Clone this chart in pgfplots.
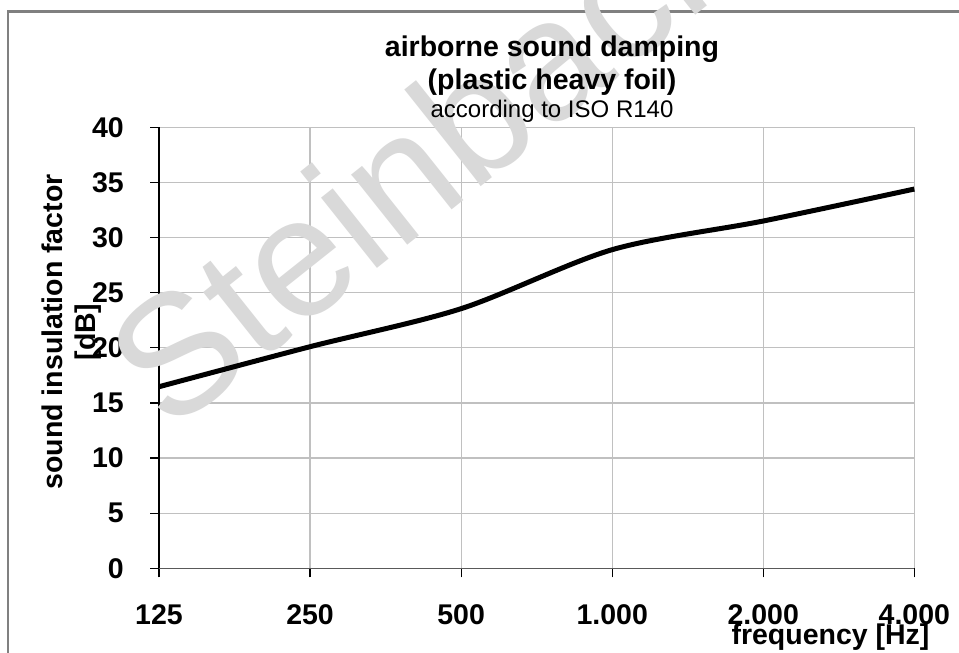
\documentclass[border=0pt]{standalone}
\usepackage{fontspec}
\setmainfont{Liberation Sans}
\usepackage{pgfplots}
\pgfplotsset{compat=1.18}
\definecolor{gridgray}{RGB}{192,192,192}
\definecolor{wm}{RGB}{217,217,217}
\definecolor{framegray}{RGB}{128,128,128}
\begin{document}
\begin{tikzpicture}[x=1pt,y=1pt]
\useasboundingbox (0,0) rectangle (959,653);
\fill[white] (0,0) rectangle (959,653);
\draw[framegray, line width=2.5pt] (8,-20) -- (8,641.3) -- (990,641.3);
\begin{axis}[
  at={(159pt,84.7pt)}, anchor=south west,
  scale only axis, width=755.3pt, height=441pt,
  clip=false,
  xmode=log, log basis x=2,
  xmin=125, xmax=4000, ymin=0, ymax=40,
  xtick={125,250,500,1000,2000,4000},
  xticklabels={125,250,500,1.000,2.000,4.000},
  ytick={0,5,10,15,20,25,30,35,40},
  yticklabels={0,5,10,15,20,25,30,35,40},
  minor xtick={}, minor ytick={},
  grid=major,
  major grid style={gridgray, line width=1.2pt},
  axis x line=bottom, axis y line=left,
  x axis line style={-, black!65, line width=1.5pt},
  y axis line style={-, black, line width=1.2pt},
  tick align=outside,
  major tick length=9pt,
  tick style={black, line width=1.2pt},
  ticklabel style={font=\bfseries\fontsize{28.5}{30}\selectfont, inner sep=0pt},
  xticklabel style={anchor=base, yshift=-46.7pt},
  yticklabel style={anchor=east, xshift=-26pt},
]
\node[rotate=38.5, anchor=base west, text=wm, inner sep=0pt, font=\fontsize{170}{170}\selectfont] at (rel axis cs:0.0132,0.3027) {Steinbach};
\addplot[black, line width=5pt, smooth, tension=0.5] coordinates {
  (125,16.47) (250,20.1) (500,23.55) (1000,28.9) (2000,31.5) (4000,34.4)
};
\end{axis}
\node[anchor=base, font=\bfseries\fontsize{28.5}{33}\selectfont] at (552,596) {airborne sound damping};
\node[anchor=base, font=\bfseries\fontsize{28.5}{33}\selectfont] at (552,563) {(plastic heavy foil)};
\node[anchor=base, font=\fontsize{24}{28}\selectfont] at (552,535) {according to ISO R140};
\node[rotate=90, anchor=base, font=\bfseries\fontsize{28.5}{33}\selectfont] at (62,321) {sound insulation factor};
\node[rotate=90, anchor=base, font=\bfseries\fontsize{28.5}{33}\selectfont] at (95,321) {[dB]};
\node[anchor=base east, font=\bfseries\fontsize{28.5}{33}\selectfont] at (933,8) {frequency [Hz]};
\end{tikzpicture}
\end{document}
